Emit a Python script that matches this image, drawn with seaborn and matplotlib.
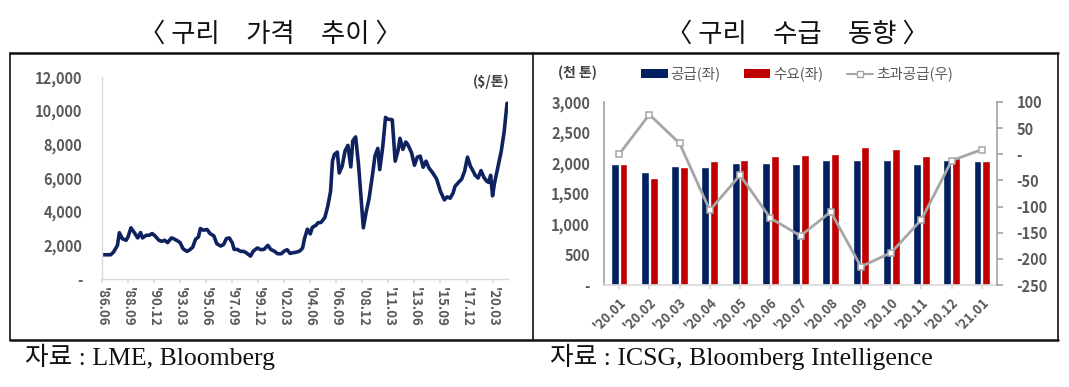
import numpy as np
import pandas as pd
import matplotlib
matplotlib.use("Agg")
import matplotlib.pyplot as plt
from matplotlib.lines import Line2D
from matplotlib.patches import Patch
import seaborn as sns

# ---------------- data ----------------
# Left: LME copper price ($/ton); x = months since 1986.06
price_month = [0, 9, 12, 16, 18, 21, 25, 27, 30, 33, 37, 40, 42, 46, 49, 52, 55, 59, 62, 65,
               68, 72, 74, 78, 81, 84, 88, 90, 94, 97, 100, 102, 105, 109, 112, 116, 119, 123,
               126, 129, 132, 135, 137, 140, 144, 147, 150, 154, 157, 161, 165, 168, 172, 175,
               179, 182, 186, 189, 192, 195, 198, 202, 205, 208, 210, 213, 216, 218, 222, 224,
               227, 231, 234, 237, 239, 241, 244, 246, 249, 252, 255, 258, 260, 263, 266, 271,
               274, 277, 281, 283, 286, 288, 291, 294, 296, 301, 304, 307, 309, 312, 315, 317,
               321, 324, 327, 330, 333, 336, 339, 343, 347, 351, 355, 358, 361, 364, 366, 370,
               373, 376, 379, 382, 384, 387, 390, 393, 396, 399, 401, 403, 405, 407, 410, 414,
               417, 420]
price_value = [1440, 1440, 1600, 2000, 2750, 2400, 2300, 2500, 3040, 2800, 2440, 2760, 2440,
               2600, 2600, 2700, 2560, 2300, 2240, 2300, 2160, 2440, 2400, 2280, 2160, 1800,
               1640, 1700, 1880, 2360, 2500, 3000, 2900, 2940, 2700, 2560, 2100, 1960, 2040,
               2400, 2440, 2160, 1760, 1760, 1640, 1640, 1540, 1360, 1660, 1840, 1740, 1760,
               2000, 1760, 1640, 1500, 1500, 1660, 1740, 1520, 1560, 1600, 1660, 1840, 2400,
               2960, 2680, 3060, 3200, 3340, 3360, 3640, 4300, 5200, 7000, 7400, 7540, 6300,
               6700, 7600, 7940, 6660, 8200, 8440, 6800, 3040, 4000, 4800, 6400, 7300, 7760,
               6500, 7800, 9600, 9500, 9460, 7000, 7640, 8360, 7700, 8140, 8000, 7500, 6760,
               7240, 7300, 6640, 7000, 6600, 6300, 5940, 5200, 4700, 4880, 4800, 5100, 5500,
               5760, 5940, 6400, 7240, 6700, 6500, 6160, 6000, 6440, 6040, 5800, 5740, 6160,
               4940, 5700, 6500, 7600, 8740, 10440]
price_ticklabels = ["'86.06", "'88.09", "'90.12", "'93.03", "'95.06", "'97.09", "'99.12",
                    "'02.03", "'04.06", "'06.09", "'08.12", "'11.03", "'13.06", "'15.09",
                    "'17.12", "'20.03"]
tick_step_months = 27

# Right: copper supply / demand (thousand tons), excess supply
sd_months = ["'20.01", "'20.02", "'20.03", "'20.04", "'20.05", "'20.06", "'20.07",
             "'20.08", "'20.09", "'20.10", "'20.11", "'20.12", "'21.01"]
supply = [1990, 1845, 1948, 1932, 2003, 2003, 1976, 2047, 2047, 2047, 1987, 2047, 2031]
demand = [1990, 1761, 1932, 2031, 2047, 2113, 2130, 2146, 2256, 2229, 2113, 2075, 2031]
excess = [0, 76, 21, -107, -40, -122, -156, -110, -215, -188, -125, -12, 9]
series_names = ["공급(좌)", "수요(좌)", "초과공급(우)"]

# ---------------- style ----------------
sns.set_theme(style="white")
plt.rcParams["font.family"] = ["Noto Sans CJK KR", "DejaVu Sans"]

NAVY_LINE = "#0F2260"
BLUE = "#002060"
RED = "#C00000"
GRAY_LINE = "#A6A6A6"
TXT = "#595959"

W, H = 1069, 387
fig = plt.figure(figsize=(W / 100, H / 100), dpi=100)
fig.patch.set_facecolor("white")


def rect(x0, y0, x1, y1):
    return [x0 / W, 1 - y1 / H, (x1 - x0) / W, (y1 - y0) / H]


def hline(x0, x1, y, lw=1.8):
    fig.add_artist(Line2D([x0 / W, x1 / W], [1 - y / H, 1 - y / H], color="#111111", lw=lw))


def vline(x, y0, y1, lw=1.2):
    fig.add_artist(Line2D([x / W, x / W], [1 - y0 / H, 1 - y1 / H], color="#111111", lw=lw))


hline(10, 1058, 53)
hline(10, 1058, 340)
vline(10, 53, 340)
vline(533, 53, 340)
vline(1058, 53, 340)

# titles
fig.text(270 / W, 1 - 34 / H, "〈 구리　가격　추이 〉", ha="center", va="center",
         fontsize=19, color="#111111")
fig.text(797 / W, 1 - 34 / H, "〈 구리　수급　동향 〉", ha="center", va="center",
         fontsize=19, color="#111111")

# sources
src_font = ["Liberation Serif", "Noto Sans CJK KR"]
fig.text(25 / W, 1 - 357 / H, "자료 : LME, Bloomberg", ha="left", va="center",
         fontsize=18.5, family=src_font, color="#111111")
fig.text(550 / W, 1 - 357 / H, "자료 : ICSG, Bloomberg Intelligence", ha="left", va="center",
         fontsize=18.5, family=src_font, color="#111111")

# ---------------- left chart ----------------
ax1 = fig.add_axes(rect(102, 77, 508, 279))
df_price = pd.DataFrame({"month": price_month, "price": price_value})
sns.lineplot(data=df_price, x="month", y="price", ax=ax1, color=NAVY_LINE, lw=2.6,
             estimator=None, sort=False)
ax1.set_xlim(0, max(price_month) + 1)
ax1.set_ylim(0, 12000)
yt = np.arange(0, 12001, 2000)
ax1.set_yticks(yt)
ax1.set_yticklabels(["-" if v == 0 else f"{v:,}" for v in yt])
xt = [i * tick_step_months for i in range(len(price_ticklabels))]
ax1.set_xticks(xt)
ax1.set_xticklabels(price_ticklabels, rotation=-90, va="top", ha="center")
ax1.set_xlabel("")
ax1.set_ylabel("")
for s in ["top", "right"]:
    ax1.spines[s].set_visible(False)
for s in ["left", "bottom"]:
    ax1.spines[s].set_color("#D9D9D9")
    ax1.spines[s].set_linewidth(1.0)
ax1.tick_params(axis="y", length=0, pad=14, labelsize=10.5, labelcolor=TXT)
ax1.tick_params(axis="x", length=3, color="#D9D9D9", pad=3, labelsize=9.5, labelcolor=TXT,
                bottom=True)
for lab in ax1.get_yticklabels() + ax1.get_xticklabels():
    lab.set_fontweight("bold")
fig.text(510 / W, 1 - 82 / H, "($/톤)", ha="right", va="center", fontsize=10,
         fontweight="bold", color="#404040")

# ---------------- right chart ----------------
ax2 = fig.add_axes(rect(604, 102, 997, 285))
df_sd = pd.DataFrame({
    "month": sd_months * 2,
    "value": supply + demand,
    "type": [series_names[0]] * len(sd_months) + [series_names[1]] * len(sd_months),
})
sns.barplot(data=df_sd, x="month", y="value", hue="type", palette=[BLUE, RED],
            width=0.58, gap=0.1, ax=ax2, legend=False, errorbar=None, saturation=1)
ax2.set_xlim(-0.5, len(sd_months) - 0.5)
ax2.set_ylim(0, 3000)
yt2 = np.arange(0, 3001, 500)
ax2.set_yticks(yt2)
ax2.set_yticklabels(["-" if v == 0 else f"{v:,}" for v in yt2])
ax2.set_xticks(range(len(sd_months)))
ax2.set_xticklabels(sd_months, rotation=45, ha="right", rotation_mode="anchor")
ax2.set_xlabel("")
ax2.set_ylabel("")
for s in ["top", "right"]:
    ax2.spines[s].set_visible(False)
ax2.spines["left"].set_color("#A6A6A6")
ax2.spines["bottom"].set_color("#D9D9D9")
ax2.tick_params(axis="y", length=0, pad=10, labelsize=10.5, labelcolor=TXT)
ax2.tick_params(axis="x", length=3, color="#D9D9D9", pad=4, labelsize=9.5, labelcolor=TXT,
                bottom=True)
for lab in ax2.get_yticklabels() + ax2.get_xticklabels():
    lab.set_fontweight("bold")

ax3 = ax2.twinx()
df_ex = pd.DataFrame({"pos": np.arange(len(sd_months)), "excess": excess})
sns.lineplot(data=df_ex, x="pos", y="excess", ax=ax3, color=GRAY_LINE, lw=2,
             marker="s", markersize=5, markerfacecolor="white",
             markeredgecolor=GRAY_LINE, markeredgewidth=1.1, estimator=None, sort=False)
ax3.set_ylim(-250, 100)
yt3 = np.arange(-250, 101, 50)
ax3.set_yticks(yt3)
ax3.set_yticklabels(["-" if v == 0 else f"{v}" for v in yt3])
ax3.set_ylabel("")
ax3.set_xlim(-0.5, len(sd_months) - 0.5)
for s in ["top", "left", "bottom"]:
    ax3.spines[s].set_visible(False)
ax3.spines["right"].set_color("#A6A6A6")
ax3.tick_params(axis="y", length=4, color="#A6A6A6", pad=10, labelsize=10.5, labelcolor=TXT,
                right=True)
for lab in ax3.get_yticklabels():
    lab.set_fontweight("bold")

fig.text(558 / W, 1 - 73 / H, "(천 톤)", ha="left", va="center", fontsize=10,
         fontweight="bold", color="#404040")

handles = [Patch(facecolor=BLUE, edgecolor="none"),
           Patch(facecolor=RED, edgecolor="none"),
           Line2D([0], [0], color=GRAY_LINE, lw=1.5, marker="s", markersize=5,
                  markerfacecolor="white", markeredgecolor=GRAY_LINE)]
leg = ax2.legend(handles, series_names, ncol=3, loc="center",
                 bbox_to_anchor=(797 / W, 1 - 74 / H), bbox_transform=fig.transFigure,
                 frameon=False, fontsize=10.5, handlelength=1.8, handleheight=0.6,
                 handletextpad=0.2, columnspacing=1.6, labelcolor=TXT)

fig.savefig("out.png", dpi=100, facecolor="white")
